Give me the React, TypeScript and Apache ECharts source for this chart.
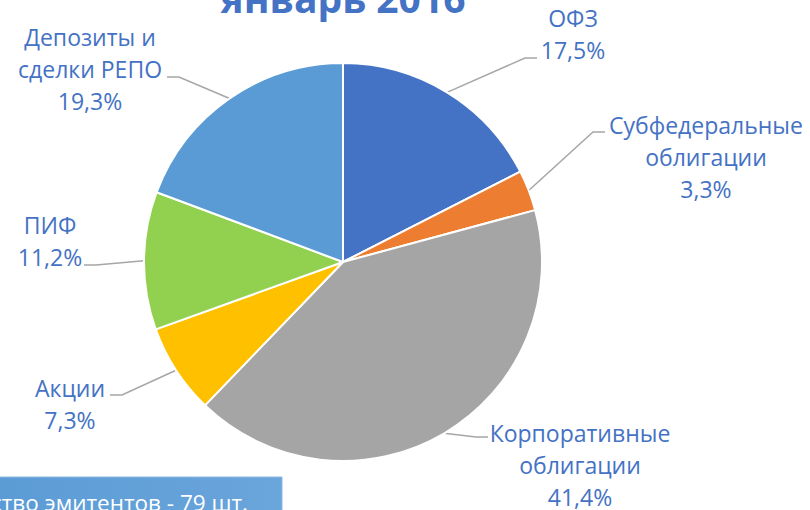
import React, { useEffect, useRef } from "react";
import * as echarts from "echarts";

const categories = [
  "ОФЗ",
  "Субфедеральные\nоблигации",
  "Корпоративные\nоблигации",
  "Акции",
  "ПИФ",
  "Депозиты и\nсделки РЕПО",
];
const shares = [17.5, 3.3, 41.4, 7.3, 11.2, 19.3];
const colors = ["#4472C4", "#ED7D31", "#A5A5A5", "#FFC000", "#92D050", "#5B9BD5"];
const titleText = "январь 2016";
const boxText = "Количество эмитентов - 79 шт.";

// label block centers (layout)
const labelCenters: [number, number][] = [
  [573, 34],
  [706, 157],
  [580, 465],
  [70, 404],
  [50, 241],
  [90, 69],
];
// where each leader line meets its label (layout)
const labelAttach: [number, number][] = [
  [537, 58],
  [605, 132],
  [488, 437],
  [110, 395],
  [84, 265],
  [167, 77],
];

export default function App() {
  const ref = useRef<HTMLDivElement>(null);
  useEffect(() => {
    if (!ref.current) return;
    const chart = echarts.init(ref.current, undefined, { renderer: "svg" });
    chart.setOption({
      animation: false,
      backgroundColor: "#ffffff",
      graphic: [
        {
          type: "text",
          x: 343,
          y: -3,
          style: {
            text: titleText,
            fill: "#4472C4",
            font: "bold 39px 'Open Sans'",
            textAlign: "center",
            textVerticalAlign: "middle",
          },
        },
        {
          type: "rect",
          shape: { x: -10, y: 477, width: 292, height: 50 },
          style: {
            fill: new echarts.graphic.LinearGradient(0, 0, 1, 0, [
              { offset: 0, color: "#5B9BD5" },
              { offset: 1, color: "#6AA5DB" },
            ]),
            stroke: "#8DB8E3",
            lineWidth: 1,
          },
        },
        {
          type: "text",
          x: 248,
          y: 502,
          style: {
            text: boxText,
            fill: "#ffffff",
            font: "22.5px 'Open Sans'",
            textAlign: "right",
            textVerticalAlign: "middle",
          },
        },
      ],
      series: [
        {
          type: "pie",
          center: [343, 262],
          radius: 199,
          startAngle: 90,
          clockwise: true,
          itemStyle: { borderColor: "#ffffff", borderWidth: 2 },
          label: {
            show: true,
            formatter: (p: any) =>
              p.name + "\n" + p.value.toFixed(1).replace(".", ",") + "%",
            color: "#4472C4",
            fontFamily: "'Open Sans'",
            fontSize: 23,
            lineHeight: 32,
            align: "center",
          },
          labelLine: {
            show: true,
            lineStyle: { color: "#A6A6A6", width: 1.5 },
          },
          labelLayout: (params: any) => {
            const i = params.dataIndex;
            const c = labelCenters[i];
            const end = labelAttach[i];
            const res: any = { x: c[0], y: c[1], align: "center", verticalAlign: "middle" };
            const pts = params.labelLinePoints;
            if (pts && pts[0]) {
              const p0 = pts[0];
              const bend = [end[0] + (end[0] < p0[0] ? 12 : -12), end[1]];
              res.labelLinePoints = [[p0[0], p0[1]], bend, [end[0], end[1]]];
            }
            return res;
          },
          data: categories.map((name, i) => ({
            name,
            value: shares[i],
            itemStyle: { color: colors[i] },
          })),
        },
      ],
    });
    return () => chart.dispose();
  }, []);
  return (
    <div
      ref={ref}
      style={{ position: "fixed", left: 0, top: 0, width: 810, height: 510 }}
    />
  );
}
